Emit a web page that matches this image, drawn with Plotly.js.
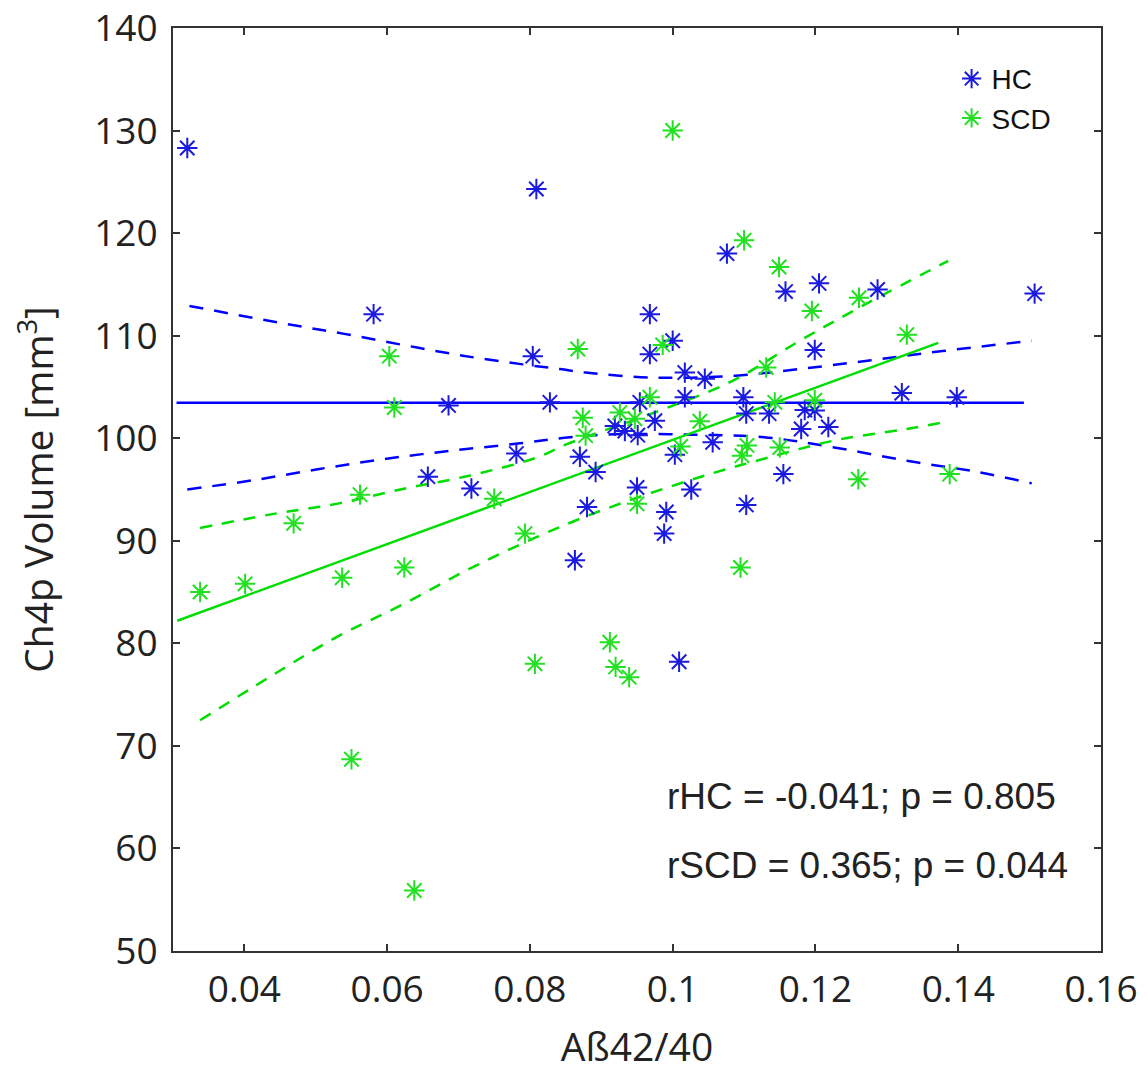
<!DOCTYPE html>
<html>
<head>
<meta charset="utf-8">
<script src="https://cdn.plot.ly/plotly-3.0.1.min.js"></script>
<style>html,body{margin:0;padding:0;background:#fff;}</style>
</head>
<body>
<div id="chart" style="width:1148px;height:1072px;"></div>
<script>
// HC group (Aß42/40 ratio, Ch4p volume)
var hcX = [0.0320,0.0581,0.0657,0.0686,0.0718,0.0781,0.0804,0.0809,0.0828,0.0863,0.0870,0.0880,0.0892,0.0919,0.0933,0.0950,0.0951,0.0954,0.0968,0.0968,0.0975,0.0988,0.0991,0.1000,0.1003,0.1009,0.1017,0.1017,0.1026,0.1045,0.1056,0.1076,0.1099,0.1103,0.1103,0.1135,0.1155,0.1158,0.1180,0.1185,0.1199,0.1199,0.1205,0.1218,0.1287,0.1321,0.1398,0.1507];
var hcY = [128.3,112.1,96.25,103.2,95.1,98.5,108.0,124.3,103.5,88.1,98.2,93.3,96.7,101.2,100.7,95.2,100.3,103.5,112.1,108.2,101.7,90.7,92.8,109.5,98.4,78.2,106.4,104.0,95.0,105.8,99.6,118.0,104.0,102.4,93.5,102.4,96.5,114.3,100.9,102.75,102.7,108.6,115.1,101.1,114.5,104.4,104.0,114.1];

// SCD group
var scdX = [0.0338,0.0401,0.0469,0.0537,0.0550,0.0562,0.0603,0.0610,0.0624,0.0638,0.0750,0.0793,0.0807,0.0867,0.0874,0.0878,0.0912,0.0920,0.0926,0.0939,0.0947,0.0950,0.0968,0.0986,0.1000,0.1011,0.1038,0.1095,0.1097,0.1100,0.1104,0.1131,0.1143,0.1149,0.1150,0.1195,0.1199,0.1260,0.1261,0.1328,0.1388];
var scdY = [85.0,85.8,91.7,86.4,68.7,94.5,108.0,103.0,87.4,55.9,94.1,90.7,78.0,108.7,102.0,100.25,80.1,77.7,102.5,76.7,101.9,93.6,104.0,109.1,130.0,99.2,101.65,87.4,98.3,119.3,99.3,106.9,103.5,116.7,99.1,112.4,103.7,96.0,113.7,110.1,96.5];

// Regression lines
var hcFitX = [0.0305,0.1492];
var hcFitY = [103.45,103.45];
var scdFitX = [0.0306,0.1372];
var scdFitY = [82.2,109.3];

// Confidence bands
var hcUpX = [0.0323,0.0454,0.0538,0.0622,0.0706,0.0790,0.0842,0.0878,0.0979,0.1088,0.1178,0.1278,0.1378,0.1503];
var hcUpY = [112.9,111.2,110.2,109.1,108.05,107.2,106.75,106.4,105.9,106.1,106.75,107.6,108.5,109.5];
var hcLoX = [0.0320,0.0412,0.0505,0.0599,0.0692,0.0786,0.0856,0.0928,0.1028,0.1128,0.1218,0.1328,0.1428,0.1503];
var hcLoY = [95.0,95.9,97.0,98.0,98.8,99.5,100.1,100.4,100.35,100.1,99.2,97.8,96.7,95.6];
var scdUpX = [0.0338,0.0435,0.0529,0.0622,0.0715,0.0809,0.0851,0.0982,0.1084,0.1178,0.1271,0.1386];
var scdUpY = [91.25,92.55,93.6,95.05,96.35,98.1,99.4,102.7,105.6,109.5,113.1,117.3];
var scdLoX = [0.0338,0.0435,0.0529,0.0622,0.0715,0.0809,0.0898,0.1033,0.1128,0.1228,0.1328,0.1384];
var scdLoY = [72.5,76.7,80.6,83.8,87.25,90.35,92.9,96.1,98.0,99.8,100.9,101.6];

var xTicks = [0.04,0.06,0.08,0.1,0.12,0.14,0.16];
var xTickText = ['0.04','0.06','0.08','0.1','0.12','0.14','0.16'];
var yTicks = [50,60,70,80,90,100,110,120,130,140];

var seriesNames = ['HC','SCD'];
var statsText = ['rHC = -0.041; p = 0.805','rSCD = 0.365; p = 0.044'];

var BLUE = '#1a1ae0', BLUE_L = '#0000ff';
var GREEN = '#22e022', GREEN_L = '#00dd00';

var traces = [
  {x:hcFitX, y:hcFitY, mode:'lines', line:{color:BLUE_L, width:2.5}, showlegend:false, hoverinfo:'skip'},
  {x:hcUpX, y:hcUpY, mode:'lines', line:{color:BLUE_L, width:2.5, dash:'14px,11px', shape:'spline'}, showlegend:false, hoverinfo:'skip'},
  {x:hcLoX, y:hcLoY, mode:'lines', line:{color:BLUE_L, width:2.5, dash:'14px,11px', shape:'spline'}, showlegend:false, hoverinfo:'skip'},
  {x:scdFitX, y:scdFitY, mode:'lines', line:{color:GREEN_L, width:2.5}, showlegend:false, hoverinfo:'skip'},
  {x:scdUpX, y:scdUpY, mode:'lines', line:{color:GREEN_L, width:2.5, dash:'12px,10px', shape:'spline'}, showlegend:false, hoverinfo:'skip'},
  {x:scdLoX, y:scdLoY, mode:'lines', line:{color:GREEN_L, width:2.5, dash:'12px,10px', shape:'spline'}, showlegend:false, hoverinfo:'skip'},
  {x:hcX, y:hcY, mode:'markers', name:seriesNames[0],
   marker:{symbol:'asterisk-open', size:17, color:BLUE, line:{color:BLUE, width:2}}},
  {x:scdX, y:scdY, mode:'markers', name:seriesNames[1],
   marker:{symbol:'asterisk-open', size:17, color:GREEN, line:{color:GREEN, width:2}}}
];

var tickFont = {family:'Open Sans, sans-serif', size:37, color:'#222'};
var axisCommon = {
  ticks:'inside', ticklen:7, tickwidth:2, tickcolor:'#333',
  showline:true, linecolor:'#333', linewidth:2, mirror:'ticks',
  showgrid:false, zeroline:false, tickfont:tickFont,
  ticklabeloverflow:'allow'
};

var layout = {
  width:1148, height:1072,
  margin:{l:173, r:47, t:28, b:121, pad:0},
  paper_bgcolor:'#ffffff', plot_bgcolor:'#ffffff',
  showlegend:true,
  legend:{x:0.839, y:0.972, xanchor:'left', yanchor:'top',
          font:{family:'Liberation Sans, Arial, sans-serif', size:28, color:'#111'},
          bgcolor:'rgba(255,255,255,0)', tracegroupgap:0},
  xaxis:Object.assign({}, axisCommon, {
    range:[0.03,0.16], tickmode:'array', tickvals:xTicks, ticktext:xTickText,
    ticklabelstandoff:5,
    title:{text:'Aß42/40', font:{family:'Open Sans, sans-serif', size:39, color:'#222'}, standoff:24}
  }),
  yaxis:Object.assign({}, axisCommon, {
    range:[50,140], tickmode:'array', tickvals:yTicks,
    ticklabelstandoff:6,
    title:{text:'Ch4p Volume [mm<sup>3</sup>]', font:{family:'Open Sans, sans-serif', size:39, color:'#222'}, standoff:28}
  }),
  annotations:[
    {xref:'paper', yref:'paper', x:0.530, y:0.167, xanchor:'left', yanchor:'middle', showarrow:false,
     text:statsText[0], font:{family:'Liberation Sans, Arial, sans-serif', size:37, color:'#222'}},
    {xref:'paper', yref:'paper', x:0.530, y:0.093, xanchor:'left', yanchor:'middle', showarrow:false,
     text:statsText[1], font:{family:'Liberation Sans, Arial, sans-serif', size:37, color:'#222'}}
  ]
};

Plotly.newPlot('chart', traces, layout, {displayModeBar:false, responsive:false});
</script>
</body>
</html>
